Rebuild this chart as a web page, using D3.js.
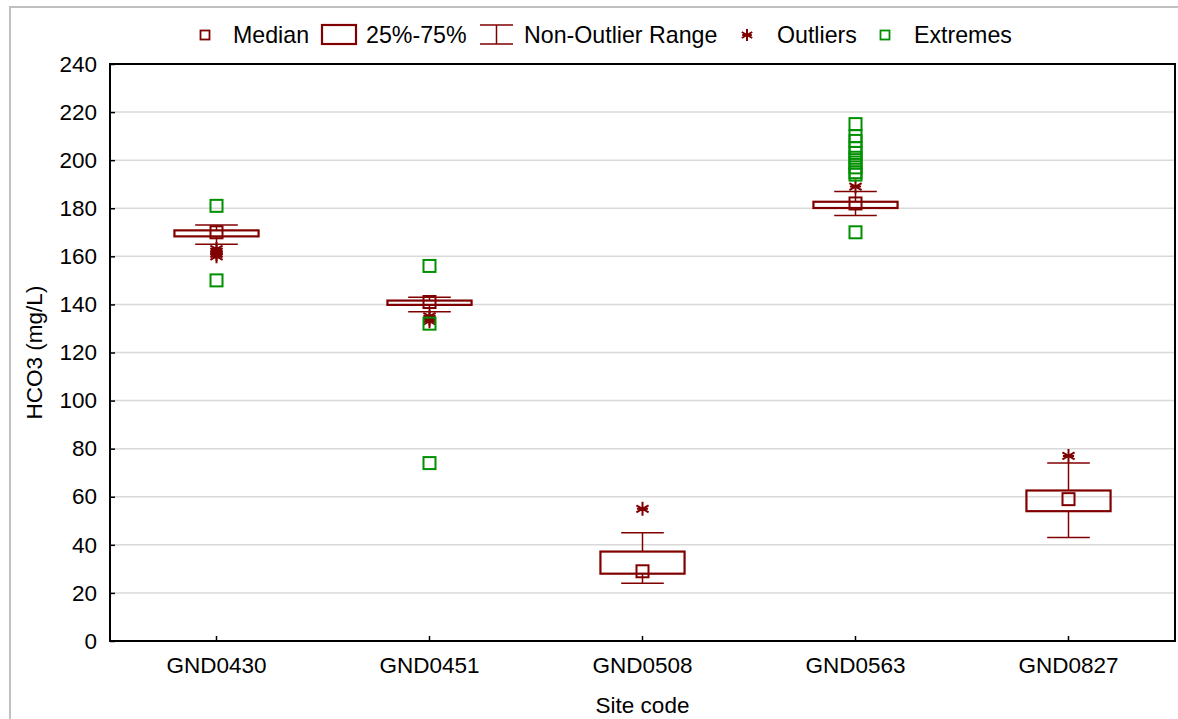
<!DOCTYPE html>
<html>
<head>
<meta charset="utf-8">
<script src="https://cdn.jsdelivr.net/npm/d3@7"></script>
<style>
  html, body { margin: 0; padding: 0; background: #fff; }
  svg { display: block; font-family: "Liberation Sans", Arial, sans-serif; }
</style>
</head>
<body>
<svg id="chart" width="1178" height="719"></svg>
<script>
// HCO3 concentrations per monitoring site (box-whisker summary)
const categories   = ["GND0430", "GND0451", "GND0508", "GND0563", "GND0827"];
const medians      = [170, 141, 29, 182, 59];
const q1           = [168.3, 139.8, 28, 180.1, 54];
const q3           = [170.8, 141.6, 37.2, 182.7, 62.6];
const whiskerLow   = [165, 137, 24, 177, 43];
const whiskerHigh  = [173, 143, 45, 187, 74];
const outliers     = [[160, 161, 162, 163], [133, 134, 135], [55], [189], [77]];
const extremes     = [[181, 150], [156, 132, 74], [], [215, 210, 208, 205, 203, 201, 199, 197, 195, 194, 170], []];
const yTicks       = [0, 20, 40, 60, 80, 100, 120, 140, 160, 180, 200, 220, 240];
const legendItems  = ["Median", "25%-75%", "Non-Outlier Range", "Outliers", "Extremes"];

const RED = "#800000";
const GREEN = "#009000";
const FONT = "22.5px";
const LEGEND_FONT = "23.2px";

const svg = d3.select("#chart");
const margin = { left: 110, top: 64, right: 1175, bottom: 641 };

// outer frame (left and top edges visible)
svg.append("path")
  .attr("d", `M10,719 L10,7 L1178,7`)
  .attr("fill", "none").attr("stroke", "#c0c0c0").attr("stroke-width", 2);

const x = d3.scaleBand().domain(categories).range([margin.left, margin.right]);
const y = d3.scaleLinear().domain([0, 240]).range([margin.bottom, margin.top]);

// horizontal grid
svg.append("g").selectAll("line")
  .data(yTicks.filter(t => t > 0 && t < 240))
  .join("line")
  .attr("x1", margin.left).attr("x2", margin.right)
  .attr("y1", d => y(d)).attr("y2", d => y(d))
  .attr("stroke", "#d9d9d9").attr("stroke-width", 1.5);

// axes
const yAxis = d3.axisLeft(y).tickValues(yTicks).tickSize(-5).tickPadding(13);
const gy = svg.append("g").attr("transform", `translate(${margin.left},0)`).call(yAxis);
const xAxis = d3.axisBottom(x).tickSize(-5).tickPadding(16);
const gx = svg.append("g").attr("transform", `translate(0,${margin.bottom})`).call(xAxis);
[gy, gx].forEach(g => {
  g.select(".domain").remove();
  g.selectAll(".tick line").attr("stroke", "#000").attr("stroke-width", 1.5);
  g.selectAll(".tick text").attr("fill", "#000").style("font-size", FONT)
    .style("font-family", "'Liberation Sans', Arial, sans-serif");
});

// plot frame
svg.append("rect")
  .attr("x", margin.left).attr("y", margin.top)
  .attr("width", margin.right - margin.left).attr("height", margin.bottom - margin.top)
  .attr("fill", "none").attr("stroke", "#000").attr("stroke-width", 2);

// axis titles
svg.append("text")
  .attr("x", (margin.left + margin.right) / 2).attr("y", 713)
  .attr("text-anchor", "middle").style("font-size", FONT).text("Site code");
svg.append("text")
  .attr("transform", `translate(42,${(margin.top + margin.bottom) / 2}) rotate(-90)`)
  .attr("text-anchor", "middle").style("font-size", FONT).text("HCO3 (mg/L)");

// marker helpers
function squareMarker(g, cx, cy, size, color, sw) {
  g.append("rect")
    .attr("x", cx - size / 2).attr("y", cy - size / 2)
    .attr("width", size).attr("height", size)
    .attr("fill", "none").attr("stroke", color).attr("stroke-width", sw);
}
function asterisk(g, cx, cy, r, color) {
  const a = r * 0.87, b = r * 0.5;
  g.append("path")
    .attr("d", `M${cx},${cy - r}L${cx},${cy + r}M${cx - a},${cy - b}L${cx + a},${cy + b}M${cx - a},${cy + b}L${cx + a},${cy - b}M${cx - r * 0.8},${cy}L${cx + r * 0.8},${cy}`)
    .attr("stroke", color).attr("stroke-width", 2).attr("fill", "none");
}

// boxes
const bw = x.bandwidth();
const boxW = bw * 0.395, capW = bw * 0.2;
const plot = svg.append("g");
categories.forEach((c, i) => {
  const cx = x(c) + bw / 2;
  const g = plot.append("g");
  // whiskers
  g.append("line").attr("x1", cx).attr("x2", cx)
    .attr("y1", y(whiskerHigh[i])).attr("y2", y(q3[i]))
    .attr("stroke", RED).attr("stroke-width", 1.5);
  g.append("line").attr("x1", cx).attr("x2", cx)
    .attr("y1", y(q1[i])).attr("y2", y(whiskerLow[i]))
    .attr("stroke", RED).attr("stroke-width", 1.5);
  [whiskerHigh[i], whiskerLow[i]].forEach(v => {
    g.append("line").attr("x1", cx - capW / 2).attr("x2", cx + capW / 2)
      .attr("y1", y(v)).attr("y2", y(v))
      .attr("stroke", RED).attr("stroke-width", 1.5);
  });
  // box
  g.append("rect")
    .attr("x", cx - boxW / 2).attr("y", y(q3[i]))
    .attr("width", boxW).attr("height", y(q1[i]) - y(q3[i]))
    .attr("fill", "none").attr("stroke", RED).attr("stroke-width", 2.2);
  // median
  squareMarker(g, cx, y(medians[i]), 12, RED, 2);
  // outliers
  outliers[i].forEach(v => asterisk(g, cx, y(v), 7, RED));
  // extremes
  extremes[i].forEach(v => squareMarker(g, cx, y(v), 12, GREEN, 2));
});

// legend
const lg = svg.append("g").style("font-size", LEGEND_FONT);
const ly = 35;
squareMarker(lg, 205, ly, 9, RED, 1.8);
lg.append("text").attr("x", 233).attr("y", ly + 8).text(legendItems[0]);
lg.append("rect").attr("x", 322).attr("y", ly - 10).attr("width", 34).attr("height", 19)
  .attr("fill", "none").attr("stroke", RED).attr("stroke-width", 2.2);
lg.append("text").attr("x", 366).attr("y", ly + 8).text(legendItems[1]);
lg.append("path").attr("d", `M480,${ly - 10}L513,${ly - 10}M496.5,${ly - 10}L496.5,${ly + 9}M480,${ly + 9}L513,${ly + 9}`)
  .attr("stroke", RED).attr("stroke-width", 1.5).attr("fill", "none");
lg.append("text").attr("x", 524).attr("y", ly + 8).text(legendItems[2]);
asterisk(lg, 747, ly, 6, RED);
lg.append("text").attr("x", 777).attr("y", ly + 8).text(legendItems[3]);
squareMarker(lg, 885, ly, 9, GREEN, 1.8);
lg.append("text").attr("x", 914).attr("y", ly + 8).text(legendItems[4]);
</script>
</body>
</html>
